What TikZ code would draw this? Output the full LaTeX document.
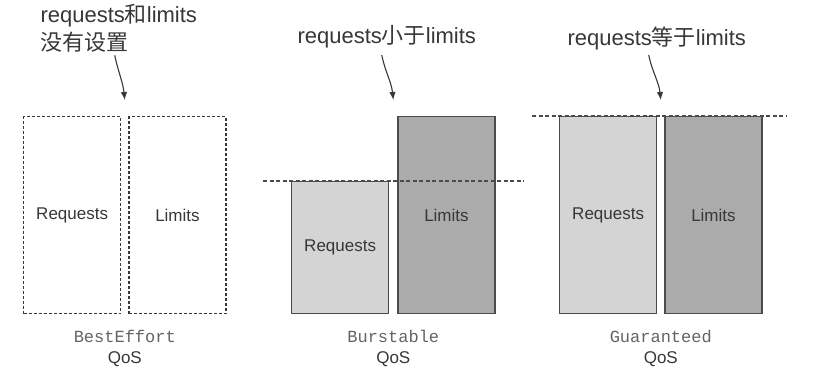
\documentclass[tikz,border=0pt]{standalone}
\usepackage{fontspec}
\setmainfont{Liberation Sans}
\setmonofont{Liberation Mono}
\newfontfamily\cjk{Noto Sans CJK SC}
\usetikzlibrary{arrows.meta,positioning,calc}
\definecolor{qos@light}{RGB}{212,212,212}
\definecolor{qos@dark}{RGB}{171,171,171}
\definecolor{qos@line}{RGB}{75,75,75}
\definecolor{qos@text}{RGB}{55,55,55}
\definecolor{qos@mono}{RGB}{100,100,100}
\tikzset{
  qos/.style={
    x=1pt, y=-1pt,
    >={Latex[length=8pt,width=6.5pt]},
    line width=1pt,
    every node/.style={font=\fontsize{17}{21}\selectfont, text=qos@text}
  },
  reqbox/.style={                  % requests bar
    draw=qos@line, line width=1.3pt,
    fill=qos@light,
    inner sep=0pt,
    minimum width=97pt,
    minimum height=197pt
  },
  limbox/.style={                  % limits bar
    reqbox,
    fill=qos@dark
  },
  unsetbox/.style={                % bar that is not set
    reqbox,
    fill=none,
    draw=qos@text,
    line width=1.3pt,
    dash pattern=on 3pt off 2pt
  },
  notetext/.style={
    font=\fontsize{22}{28}\selectfont,
    align=left,
    inner sep=0pt
  },
  qoslabel/.style={align=center, inner sep=0pt},
  notearrow/.style={->, line width=1.1pt, draw=qos@text},
  levelline/.style={draw=qos@line, line width=1.1pt, dash pattern=on 4pt off 2.5pt}
}
\begin{document}
\begin{tikzpicture}[qos]
\useasboundingbox (0,0) rectangle (830,368);

% BestEffort
\node[unsetbox, anchor=north west] (beReq) at (23,116) {Requests};
\node[unsetbox, right=7pt of beReq]       (beLim) {Limits};
% Burstable
\node[reqbox, minimum height=132pt, anchor=north west] (buReq) at (291,181) {Requests};
\node[limbox, anchor=south west] (buLim) at ([xshift=8pt]buReq.south east) {Limits};
% Guaranteed
\node[reqbox, anchor=north west] (guReq) at (559,116) {Requests};
\node[limbox, right=7pt of guReq]        (guLim) {Limits};

% level lines
\draw[levelline] ([xshift=-28pt]buReq.north west) -- ([xshift=28pt]buLim.east |- buReq.north);
\draw[levelline] ([xshift=-27pt]guReq.north west) -- ([xshift=24pt]guLim.north east);

% notes above (base = last line)
\node[notetext, anchor=base west] (beNote) at (40,50) {requests{\cjk 和}limits\\{\cjk 没有设置}};
\node[notetext, anchor=base west] (buNote) at (297,43) {requests{\cjk 小于}limits};
\node[notetext, anchor=base west] (guNote) at (567,45) {requests{\cjk 等于}limits};

\coordinate (beTip) at ($(beReq.north east)!0.5!(beLim.north west)+(0pt,16pt)$);
\coordinate (buTip) at ($(buReq.north east |- buLim.north)!0.5!(buLim.north west)+(0pt,16pt)$);
\coordinate (guTip) at ($(guReq.north east)!0.5!(guLim.north west)+(0pt,16pt)$);

\draw[notearrow] ([xshift=-4pt,yshift=-3pt]beNote.south) to[out=-78,in=96] (beTip);
\draw[notearrow] ([xshift=-5pt,yshift=-7pt]buNote.south) to[out=-78,in=96] (buTip);
\draw[notearrow] ([xshift=-8pt,yshift=-5pt]guNote.south) to[out=-78,in=96] (guTip);

% QoS class labels
\coordinate (beBase) at ($(beReq.south east)!0.5!(beLim.south west)$);
\coordinate (buBase) at ($(buReq.south east)!0.5!(buLim.south west)$);
\coordinate (guBase) at ($(guReq.south east)!0.5!(guLim.south west)$);
\node[qoslabel, below=15pt of beBase] (beQos) {{\ttfamily\color{qos@mono}BestEffort}\\QoS};
\node[qoslabel, below=15pt of buBase] (buQos) {{\ttfamily\color{qos@mono}Burstable}\\QoS};
\node[qoslabel, below=15pt of guBase] (guQos) {{\ttfamily\color{qos@mono}Guaranteed}\\QoS};

\end{tikzpicture}
\end{document}
